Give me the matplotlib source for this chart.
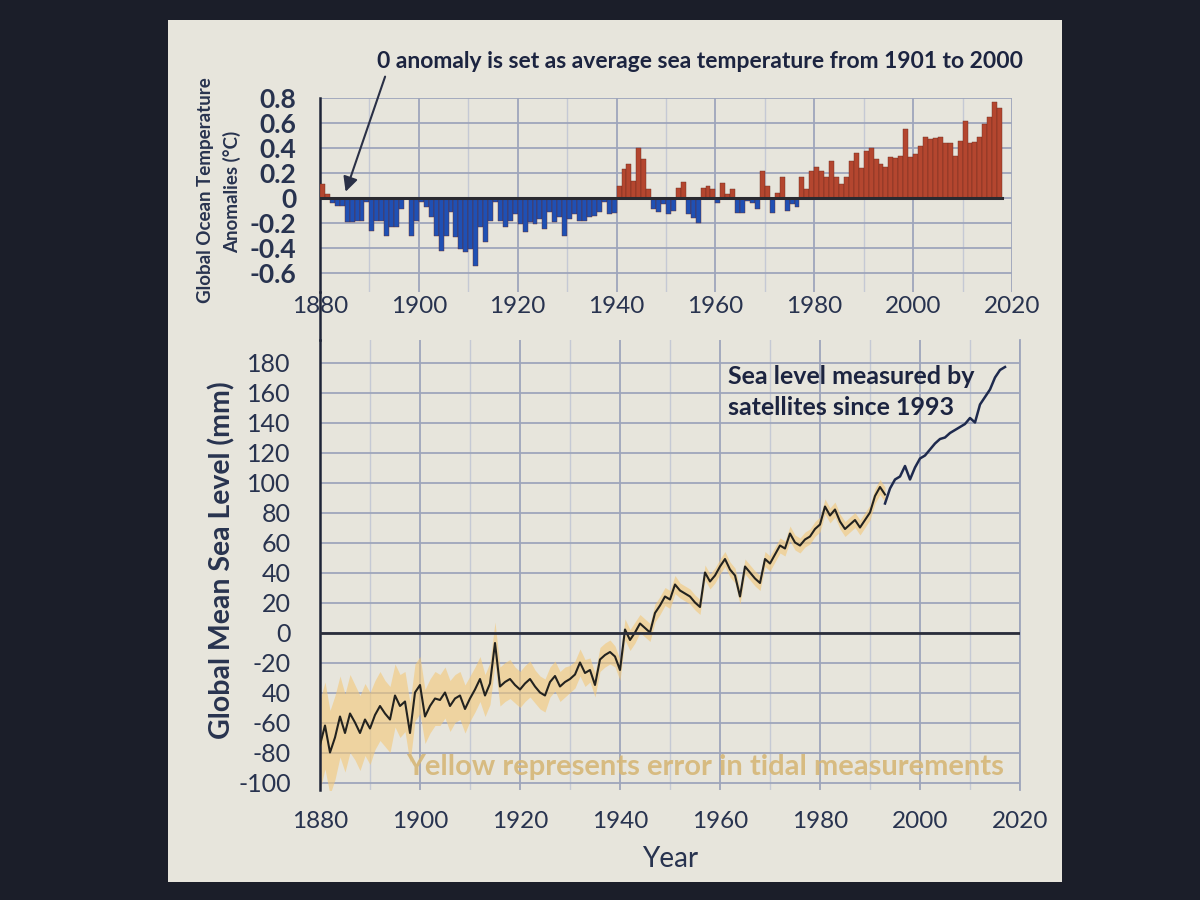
import matplotlib
matplotlib.use("Agg")
import matplotlib.pyplot as plt
from matplotlib.patches import Rectangle
from matplotlib.lines import Line2D

plt.rcParams['font.family'] = ['Lato', 'DejaVu Sans']

# ocean temperature anomalies (deg C), one bar per year from 1880
temp_start = 1880
temp_anom = [
    0.11, 0.03, -0.04, -0.06, -0.06, -0.19, -0.19, -0.18, -0.18, -0.03,
    -0.26, -0.18, -0.18, -0.30, -0.23, -0.23, -0.09, -0.01, -0.30, -0.18,
    -0.03, -0.07, -0.15, -0.30, -0.42, -0.30, -0.11, -0.31, -0.41, -0.43,
    -0.41, -0.54, -0.23, -0.35, -0.18, -0.03, -0.18, -0.23, -0.18, -0.13,
    -0.21, -0.27, -0.19, -0.21, -0.17, -0.25, -0.11, -0.19, -0.15, -0.30,
    -0.17, -0.13, -0.18, -0.18, -0.15, -0.14, -0.11, -0.03, -0.13, -0.12,
    0.10, 0.23, 0.27, 0.14, 0.40, 0.31, 0.07, -0.09, -0.11, -0.05,
    -0.13, -0.10, 0.08, 0.13, -0.13, -0.16, -0.20, 0.08, 0.10, 0.07,
    -0.035, 0.12, 0.03, 0.07, -0.12, -0.12, -0.02, -0.035, -0.09, 0.22,
    0.10, -0.12, 0.04, 0.17, -0.10, -0.05, -0.07, 0.17, 0.07, 0.22,
    0.25, 0.22, 0.17, 0.30, 0.17, 0.11, 0.17, 0.30, 0.36, 0.24,
    0.38, 0.40, 0.31, 0.27, 0.25, 0.33, 0.32, 0.34, 0.55, 0.33,
    0.35, 0.42, 0.49, 0.47, 0.48, 0.49, 0.44, 0.44, 0.34, 0.46,
    0.62, 0.44, 0.45, 0.49, 0.59, 0.65, 0.77, 0.72,
]
temp_years = list(range(temp_start, temp_start + len(temp_anom)))

# tide gauge sea level (mm) and its error, 1880-1993
tide_start = 1880
tide_level = [
    -75, -62, -80, -70, -56, -67, -54, -60, -67, -58,
    -64, -55, -49, -54, -58, -42, -49, -46, -67, -40,
    -35, -56, -49, -44, -45, -40, -49, -44, -42, -51,
    -44, -38, -31, -42, -34, -7, -36, -33, -31, -35,
    -38, -34, -31, -36, -40, -42, -33, -29, -36, -33,
    -31, -28, -20, -27, -25, -35, -18, -15, -13, -16,
    -25, 2, -5, 0, 6, 3, 0, 13, 18, 24,
    22, 32, 28, 26, 24, 20, 17, 40, 34, 38,
    44, 49, 42, 38, 24, 44, 40, 36, 33, 49,
    46, 52, 58, 56, 66, 60, 58, 62, 64, 69,
    72, 84, 78, 82, 74, 69, 72, 75, 70, 75,
    80, 91, 97, 92,
]
tide_err = [
    30, 29, 28, 28, 27, 26, 26, 25, 25, 24,
    24, 23, 23, 22, 22, 21, 21, 20, 20, 19,
    19, 18, 18, 18, 17, 17, 17, 16, 16, 16,
    15, 15, 15, 14, 14, 14, 13, 13, 13, 12,
    12, 12, 12, 11, 11, 11, 10, 10, 10, 10,
    9, 9, 9, 9, 8, 8, 8, 8, 8, 7,
    7, 7, 7, 7, 6, 6, 6, 6, 6, 6,
    6, 6, 5, 5, 5, 5, 5, 5, 5, 5,
    5, 5, 5, 5, 5, 5, 5, 5, 5, 5,
    5, 5, 5, 5, 5, 5, 5, 5, 5, 5,
    5, 5, 5, 5, 5, 5, 5, 5, 5, 5,
    5, 5, 5, 5,
]
tide_years = list(range(tide_start, tide_start + len(tide_level)))

# satellite sea level (mm), 1993-2017
sat_start = 1993
sat_level = [
    86, 96, 102, 104, 111, 102, 110, 116, 118, 122,
    126, 129, 130, 133, 135, 137, 139, 143, 140, 152,
    157, 162, 170, 175, 177,
]
sat_years = list(range(sat_start, sat_start + len(sat_level)))

year_ticks = [1880, 1900, 1920, 1940, 1960, 1980, 2000, 2020]
temp_ticks = [-0.6, -0.4, -0.2, 0, 0.2, 0.4, 0.6, 0.8]
temp_labels = ['-0.6', '-0.4', '-0.2', '0', '0.2', '0.4', '0.6', '0.8']
sea_ticks = list(range(-100, 181, 20))
sea_labels = ['-100', '-80', '-60', '40', '-20', '0', '20', '40', '60', '80',
              '100', '120', '140', '160', '180']

navy = '#28334f'
grid_c = '#9ea5bb'
panel = '#e7e5dc'

fig = plt.figure(figsize=(12, 9), dpi=100)
fig.patch.set_facecolor('#1b1e29')
fig.add_artist(Rectangle((168 / 1200, 1 - 882 / 900), 894 / 1200, 862 / 900,
                         transform=fig.transFigure, facecolor=panel,
                         edgecolor='none', zorder=0))

# ---- top: temperature anomalies ----
ax1 = fig.add_axes([320 / 1200, 1 - 292 / 900, 692 / 1200, 194 / 900])
ax1.set_facecolor('none')
colors = ['#b4462f' if v >= 0 else '#1f50b4' for v in temp_anom]
ax1.bar(temp_years, temp_anom, width=1.0, align='edge', color=colors,
        edgecolor='#6b2a20', linewidth=0.3, zorder=3)
ax1.axhline(0, color='#2a2a30', lw=2.2, zorder=4,
            xmax=(temp_years[-1] + 1 - 1880) / 140)
ax1.set_xlim(1880, 2020)
ax1.set_ylim(-0.75, 0.8)
ax1.set_yticks(temp_ticks)
ax1.set_yticklabels(temp_labels, fontsize=19, fontweight='bold', color=navy)
ax1.set_xticks(year_ticks)
ax1.set_xticklabels([str(y) for y in year_ticks], fontsize=17.5, color=navy)
ax1.set_xticks(list(range(1890, 2020, 20)), minor=True)
ax1.tick_params(which='both', length=0, pad=3)
ax1.tick_params(axis='y', pad=17)
ax1.grid(axis='y', color=grid_c, lw=1.3, zorder=1)
ax1.grid(axis='x', which='major', color=grid_c, lw=1.3, zorder=1)
ax1.grid(axis='x', which='minor', color='#c5c9d4', lw=1.0, zorder=1)
for s in ['top', 'right', 'bottom']:
    ax1.spines[s].set_visible(False)
ax1.spines['left'].set_color('#1e2438')
ax1.spines['left'].set_linewidth(1.8)

fig.text(205 / 1200, 1 - 190 / 900, 'Global Ocean Temperature', rotation=90,
         ha='center', va='center', fontsize=13.5, fontweight='bold', color=navy)
fig.text(232 / 1200, 1 - 192 / 900, 'Anomalies (°C)', rotation=90,
         ha='center', va='center', fontsize=13.5, fontweight='bold', color=navy)

fig.text(700 / 1200, 1 - 62 / 900,
         '0 anomaly is set as average sea temperature from 1901 to 2000',
         ha='center', va='center', fontsize=16.5, fontweight='bold', color='#1c2440')
ax1.annotate('', xy=(1885, 0.03), xycoords='data',
             xytext=(386 / 1200, 1 - 74 / 900), textcoords='figure fraction',
             arrowprops=dict(arrowstyle='-|>', color='#2a3046', lw=1.5,
                             mutation_scale=22))

# ---- bottom: sea level ----
ax2 = fig.add_axes([320 / 1200, 1 - 790 / 900, 700 / 1200, 450 / 900])
ax2.set_facecolor('none')
lower = [v - e for v, e in zip(tide_level, tide_err)]
upper = [v + e for v, e in zip(tide_level, tide_err)]
ax2.fill_between(tide_years, lower, upper, color='#f3c878', alpha=0.6,
                 lw=0, zorder=2)
ax2.plot(tide_years, tide_level, color='#22221f', lw=1.5, zorder=3)
ax2.plot(sat_years, sat_level, color='#1e2a4e', lw=1.8, zorder=3)
ax2.axhline(0, color='#2a2d3a', lw=2.0, zorder=4)
ax2.set_xlim(1880, 2020)
ax2.set_ylim(-105, 195)
ax2.set_yticks(sea_ticks)
ax2.set_yticklabels(sea_labels, fontsize=18, color=navy)
ax2.set_xticks(year_ticks)
ax2.set_xticklabels([str(y) for y in year_ticks], fontsize=17.5, color=navy)
ax2.set_xticks(list(range(1890, 2020, 20)), minor=True)
ax2.tick_params(which='both', length=0)
ax2.tick_params(axis='x', pad=15)
ax2.tick_params(axis='y', pad=21)
ax2.grid(axis='y', color=grid_c, lw=1.3, zorder=1)
ax2.grid(axis='x', which='major', color=grid_c, lw=1.3, zorder=1)
ax2.grid(axis='x', which='minor', color='#c5c9d4', lw=1.0, zorder=1)
for s in ['top', 'bottom']:
    ax2.spines[s].set_visible(False)
ax2.spines['right'].set_color(grid_c)
ax2.spines['right'].set_linewidth(1.3)
ax2.spines['left'].set_color('#1e2438')
ax2.spines['left'].set_linewidth(1.8)
ax2.set_xlabel('Year', fontsize=20, color=navy, labelpad=10)

fig.text(222 / 1200, 1 - 560 / 900, 'Global Mean Sea Level (mm)', rotation=90,
         ha='center', va='center', fontsize=20.5, fontweight='bold', color=navy)

# left spine joining both panels
fig.add_artist(Line2D([320 / 1200, 320 / 1200], [1 - 292 / 900, 1 - 340 / 900],
                      transform=fig.transFigure, color='#1e2438', lw=1.8))

ax2.text(1961.5, 171, 'Sea level measured by', fontsize=18,
         fontweight='bold', color='#1c2440', va='center')
ax2.text(1961.5, 150, 'satellites since 1993', fontsize=18,
         fontweight='bold', color='#1c2440', va='center')
ax2.text(1957, -90, 'Yellow represents error in tidal measurements',
         fontsize=21, fontweight='bold', color='#d6b777', ha='center',
         va='center', alpha=0.9)

fig.savefig('out.png', dpi=100, facecolor=fig.get_facecolor())
